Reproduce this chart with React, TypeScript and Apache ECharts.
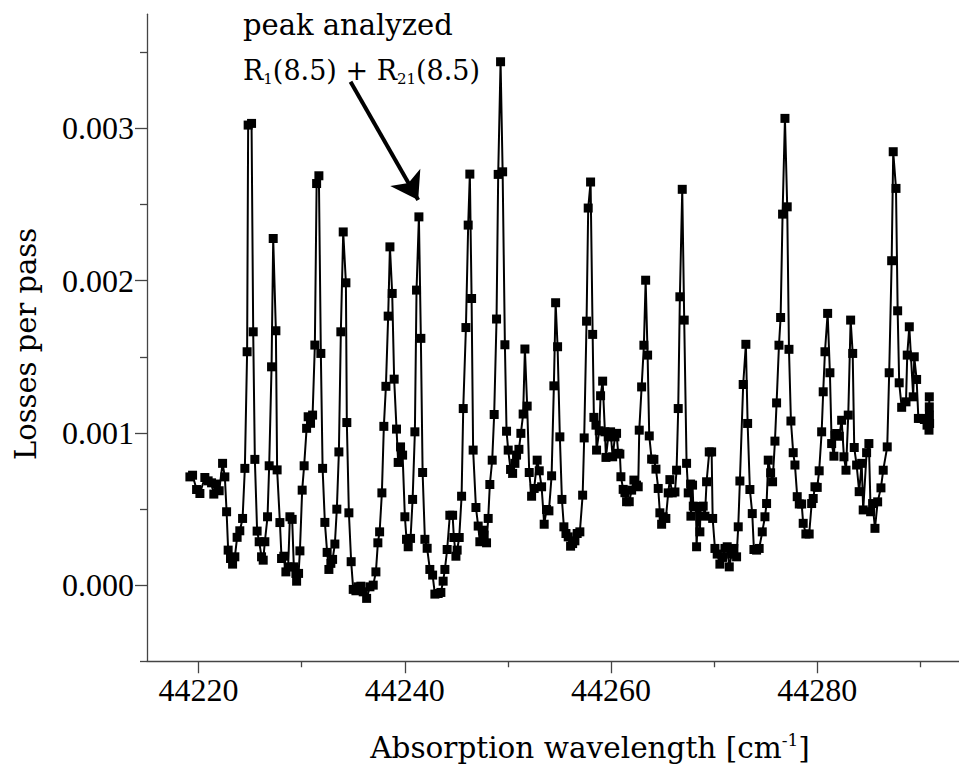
import React, { useEffect, useRef } from "react";
import * as echarts from "echarts";

// [wavenumber (cm^-1), losses per pass]
const band1: number[][] = [
  [44219.16,0.000711],[44219.42,0.000722],[44219.81,0.000628],[44220.13,0.000602],[44220.61,0.000707],[44220.93,0.000685],[44221.26,0.000672],[44221.48,0.000598],[44221.68,0.000664],[44222.0,0.00062],[44222.33,0.0008],[44222.55,0.000711],[44222.72,0.000482],[44222.87,0.00023],[44223.1,0.000175],[44223.3,0.000138],[44223.52,0.000186],[44223.74,0.000314],[44224.0,0.000357],[44224.27,0.000438],[44224.49,0.000767],[44224.71,0.001533],[44224.81,0.003022],[44225.14,0.003033],[44225.3,0.001664],[44225.46,0.000826],[44225.68,0.000355],[44225.88,0.000285],[44226.11,0.000186],[44226.27,0.000164],[44226.43,0.000285],[44226.69,0.000449],[44226.85,0.000784],[44227.08,0.001434],[44227.24,0.002277],[44227.5,0.001671],[44227.62,0.000757],[44227.89,0.000411],[44228.05,0.000175],[44228.27,0.00019],[44228.47,0.000087],[44228.69,0.00012],[44228.86,0.000449],[44229.08,0.000432],[44229.24,0.00012],[44229.44,0.000077],[44229.51,0.000026],[44229.7,0.000077],[44229.83,0.000225],[44230.05,0.000624],[44230.24,0.000784],[44230.48,0.00103],[44230.63,0.001106],[44230.86,0.001063],[44231.06,0.001117],[44231.28,0.001577],[44231.45,0.002638],[44231.67,0.002689],[44231.86,0.001522],[44232.03,0.000767],[44232.25,0.000412],[44232.47,0.000215],[44232.64,0.000103],[44232.83,0.000143],[44233.0,0.000169],[44233.22,0.00027],[44233.41,0.000499],[44233.61,0.000875],[44233.8,0.001664],[44234.03,0.00232],[44234.29,0.001986],[44234.38,0.001068],[44234.58,0.000475],[44234.8,0.000154],[44235.0,-0.000028],[44235.26,-0.000037],[44235.48,-0.000011],[44235.74,-0.000007],[44235.97,-0.000044],[44236.3,-0.000087],[44236.62,-0.000011],[44236.94,0.0]
];
const band2: number[][] = [
  [44237.2,0.000087],[44237.39,0.000278],[44237.56,0.00035],[44237.78,0.000606],[44237.97,0.001043],[44238.17,0.001306],[44238.39,0.001767],[44238.56,0.002222],[44238.78,0.001916],[44238.97,0.001353],[44239.2,0.001025],[44239.36,0.000806],[44239.59,0.000908],[44239.79,0.000854],[44240.01,0.000449],[44240.17,0.000301],[44240.33,0.000252],[44240.56,0.000307],[44240.76,0.000563],[44240.98,0.001007],[44241.14,0.001938],[44241.37,0.002419],[44241.56,0.001621],[44241.73,0.00074],[44241.95,0.000301],[44242.17,0.000242],[44242.43,0.000103],[44242.7,0.000066],[44242.92,-0.000059],[44243.24,-0.000055],[44243.5,-0.000048],[44243.72,0.000026],[44243.89,0.000103],[44244.11,0.000234],[44244.37,0.000459],[44244.64,0.000459],[44244.76,0.000313],[44244.96,0.00019],[44245.08,0.00023],[44245.28,0.000313],[44245.51,0.000584],[44245.67,0.00116],[44245.93,0.001692],[44246.15,0.002365],[44246.31,0.0027],[44246.48,0.001883],[44246.63,0.000887],[44246.9,0.00051],[44247.12,0.000388],[44247.28,0.000285],[44247.55,0.000361],[44247.7,0.000329],[44247.93,0.000278],[44248.09,0.000438],[44248.25,0.000661],[44248.48,0.000821],[44248.67,0.001121],[44248.9,0.001748],[44249.06,0.002698],[44249.29,0.003438],[44249.49,0.002715],[44249.71,0.001579],[44249.87,0.001011],[44250.03,0.000887],[44250.26,0.00076],[44250.46,0.000734],[44250.68,0.0008],[44250.84,0.000854],[44251.07,0.000892],[44251.26,0.000997],[44251.48,0.001124],[44251.65,0.001551],[44251.87,0.001176],[44252.07,0.00074],[44252.3,0.000584],[44252.55,0.000635],[44252.84,0.000821],[44253.04,0.000751],[44253.27,0.000646],[44253.52,0.0004],[44253.75,0.000497],[44253.98,0.000488],[44254.24,0.000718],[44254.46,0.001309],[44254.63,0.001855],[44254.82,0.001566],[44255.04,0.000974],[44255.24,0.000563],[44255.43,0.000383],[44255.63,0.000339],[44255.85,0.000317],[44256.08,0.000256],[44256.28,0.000273],[44256.5,0.000291]
];
const band3: number[][] = [
  [44256.72,0.000339],[44256.98,0.00035],[44257.25,0.000591],[44257.4,0.000967],[44257.63,0.001734],[44257.79,0.002477],[44258.02,0.002648],[44258.22,0.001647],[44258.34,0.001102],[44258.54,0.001051],[44258.6,0.000887],[44258.86,0.001014],[44258.99,0.001244],[44259.19,0.00134],[44259.41,0.001007],[44259.51,0.000839],[44259.73,0.000974],[44259.96,0.001007],[44260.16,0.000843],[44260.38,0.000974],[44260.54,0.000997],[44260.7,0.000866],[44260.86,0.000861],[44260.96,0.000712],[44261.18,0.000629],[44261.35,0.000607],[44261.51,0.000548],[44261.77,0.000548],[44262.0,0.000624],[44262.22,0.00069],[44262.48,0.000657],[44262.64,0.000646],[44262.74,0.001018],[44262.97,0.001302],[44263.19,0.001576],[44263.36,0.002003],[44263.55,0.001511],[44263.71,0.00098],[44263.94,0.000828],[44264.16,0.000826],[44264.36,0.000762],[44264.58,0.000635],[44264.74,0.000475],[44264.91,0.0004],[44265.06,0.000449],[44265.32,0.000438],[44265.55,0.000606],[44265.71,0.000693],[44265.94,0.000606],[44266.2,0.000612],[44266.36,0.000755],[44266.52,0.00116],[44266.68,0.001894],[44266.91,0.0026],[44267.1,0.001741],[44267.33,0.0008],[44267.49,0.000606],[44267.72,0.000664],[44267.75,0.000453],[44267.91,0.000657],[44267.98,0.000519],[44268.24,0.000515],[44268.3,0.000252],[44268.46,0.000515],[44268.62,0.00035],[44268.69,0.000515],[44268.94,0.000519],[44269.11,0.000453],[44269.27,0.000679],[44269.53,0.000875],[44269.76,0.000875],[44269.86,0.000438],[44270.08,0.000241],[44270.3,0.000204],[44270.56,0.000138],[44270.82,0.000182],[44271.05,0.000241],[44271.27,0.000252],[44271.47,0.00012],[44271.7,0.000204],[44271.92,0.000241],[44272.18,0.000186],[44272.34,0.000383],[44272.5,0.000684]
];
const band4: number[][] = [
  [44272.82,0.001318],[44273.08,0.001582],[44273.25,0.001062],[44273.47,0.000628],[44273.7,0.00047],[44273.86,0.000234],[44274.12,0.00023],[44274.37,0.000241],[44274.67,0.00035],[44274.93,0.000449],[44275.09,0.000536],[44275.25,0.000821],[44275.48,0.000738],[44275.67,0.000679],[44275.9,0.000946],[44276.06,0.001197],[44276.29,0.001576],[44276.45,0.001758],[44276.64,0.002437],[44276.87,0.003066],[44277.09,0.002485],[44277.26,0.001549],[44277.45,0.001078],[44277.67,0.00087],[44277.84,0.000789],[44278.06,0.000581],[44278.26,0.000533],[44278.49,0.000533],[44278.64,0.000406],[44278.9,0.000336],[44279.22,0.000336],[44279.46,0.000536],[44279.61,0.000569],[44279.78,0.000646],[44280.0,0.000642],[44280.19,0.000751],[44280.43,0.001007],[44280.58,0.00127],[44280.75,0.001533],[44281.01,0.001785],[44281.23,0.001395],[44281.4,0.00093],[44281.62,0.000847],[44281.72,0.000985],[44281.88,0.000996],[44282.14,0.000978],[44282.37,0.001083],[44282.59,0.000843],[44282.79,0.000755],[44283.01,0.001117],[44283.24,0.001741],[44283.44,0.001522],[44283.59,0.000904],[44283.82,0.000789],[44284.07,0.000614],[44284.31,0.0008],[44284.46,0.000494],[44284.79,0.00087],[44285.01,0.00093],[44285.18,0.000482],[44285.37,0.000536],[44285.6,0.000373],[44285.86,0.000547],[44286.18,0.000639],[44286.4,0.000755],[44286.79,0.000908],[44286.98,0.001395],[44287.22,0.002131],[44287.37,0.002847],[44287.64,0.002606],[44287.8,0.001802],[44287.95,0.001329],[44288.19,0.001168],[44288.61,0.001204],[44288.73,0.001511],[44288.93,0.001697],[44289.31,0.001237],[44289.41,0.0015],[44289.64,0.001351],[44289.81,0.001095],[44290.07,0.001095],[44290.39,0.001088],[44290.65,0.001051],[44290.84,0.001018],[44290.87,0.001237],[44290.87,0.001171],[44290.88,0.001117],[44290.9,0.001062]
];

const xMajorTicks = [44220, 44240, 44260, 44280];
const xMinorTicks = [44230, 44250, 44270, 44290];
const yMajorTicks = [0, 0.001, 0.002, 0.003];
const yMinorTicks = [-0.0005, 0.0005, 0.0015, 0.0025, 0.0035];
const arrowStart = [44234.74, 0.003307];
const arrowEnd = [44241.3, 0.00253];

const TICK_FONT = '"Liberation Serif", serif';
const TEXT_FONT = '"DejaVu Serif", serif';
const AXIS_COLOR = "#444";

export default function App() {
  const ref = useRef<HTMLDivElement>(null);
  useEffect(() => {
    if (!ref.current) return;
    const chart = echarts.init(ref.current, null, { renderer: "svg" });
    const data = [...band1, ...band2, ...band3, ...band4];
    const xRange = { min: 44215, max: 44293.75 };
    const yRange = { min: -0.0005, max: 0.00375 };
    const tickLine = { color: AXIS_COLOR, width: 1.3 };
    chart.setOption({
      animation: false,
      backgroundColor: "#fff",
      grid: { left: 147, top: 14.25, width: 812, height: 647, containLabel: false, outerBoundsMode: "none" },
      xAxis: [
        {
          type: "value", ...xRange, position: "bottom",
          axisLine: { show: true, onZero: false, lineStyle: tickLine },
          axisTick: { show: true, customValues: xMajorTicks, length: 12, lineStyle: tickLine },
          axisLabel: { customValues: xMajorTicks, margin: 13, fontFamily: TICK_FONT, fontSize: 32, color: "#000", formatter: (v: number) => String(v) },
          splitLine: { show: false },
        },
        {
          type: "value", ...xRange, position: "bottom",
          axisLine: { show: false, onZero: false },
          axisTick: { show: true, customValues: xMinorTicks, length: 6, lineStyle: tickLine },
          axisLabel: { show: false },
          splitLine: { show: false },
        },
      ],
      yAxis: [
        {
          type: "value", ...yRange, position: "left",
          axisLine: { show: true, onZero: false, lineStyle: tickLine },
          axisTick: { show: true, customValues: yMajorTicks, length: 12, lineStyle: tickLine },
          axisLabel: { customValues: yMajorTicks, margin: 13, fontFamily: TICK_FONT, fontSize: 32, color: "#000", formatter: (v: number) => v.toFixed(3) },
          splitLine: { show: false },
        },
        {
          type: "value", ...yRange, position: "left",
          axisLine: { show: false, onZero: false },
          axisTick: { show: true, customValues: yMinorTicks, length: 7, lineStyle: tickLine },
          axisLabel: { show: false },
          splitLine: { show: false },
        },
      ],
      series: [
        {
          type: "line",
          xAxisIndex: 0,
          yAxisIndex: 0,
          data,
          symbol: "rect",
          symbolSize: 9,
          showAllSymbol: true,
          itemStyle: { color: "#000" },
          lineStyle: { color: "#000", width: 2 },
          emphasis: { disabled: true },
          markLine: {
            silent: true,
            symbol: ["none", "arrow"],
            symbolSize: 26,
            label: { show: false },
            lineStyle: { color: "#000", width: 4, type: "solid" },
            emphasis: { disabled: true },
            data: [[{ coord: arrowStart }, { coord: arrowEnd }]],
          },
        },
      ],
      graphic: [
        {
          type: "text", x: 243, y: 25,
          style: { text: "peak analyzed", fontFamily: TEXT_FONT, fontSize: 29, fill: "#000", align: "left", verticalAlign: "middle" },
        },
        {
          type: "text", x: 243, y: 70,
          style: {
            text: "{a|R}{s|1}{a|(8.5) + R}{s|21}{a|(8.5)}",
            fontFamily: TEXT_FONT, fontSize: 27, fill: "#000", align: "left", verticalAlign: "middle",
            rich: {
              a: { fontFamily: TEXT_FONT, fontSize: 27, lineHeight: 32, fill: "#000" },
              s: { fontFamily: TEXT_FONT, fontSize: 15, lineHeight: 11, verticalAlign: "bottom", fill: "#000" },
            },
          },
        },
        {
          type: "text", x: 26, y: 344, rotation: Math.PI / 2,
          style: { text: "Losses per pass", fontFamily: TEXT_FONT, fontSize: 29, fill: "#000", align: "center", verticalAlign: "middle" },
        },
        {
          type: "text", x: 590, y: 748,
          style: {
            text: "{a|Absorption wavelength [cm}{p|-1}{a|]}",
            fontFamily: TEXT_FONT, fontSize: 29.5, fill: "#000", align: "center", verticalAlign: "middle",
            rich: {
              a: { fontFamily: TEXT_FONT, fontSize: 29.5, lineHeight: 34, fill: "#000" },
              p: { fontFamily: TEXT_FONT, fontSize: 17, lineHeight: 14, verticalAlign: "top", fill: "#000" },
            },
          },
        },
      ],
    });
    return () => chart.dispose();
  }, []);
  return (
    <div
      ref={ref}
      style={{ position: "absolute", left: 0, top: 0, width: 959, height: 771, background: "#fff" }}
    />
  );
}
